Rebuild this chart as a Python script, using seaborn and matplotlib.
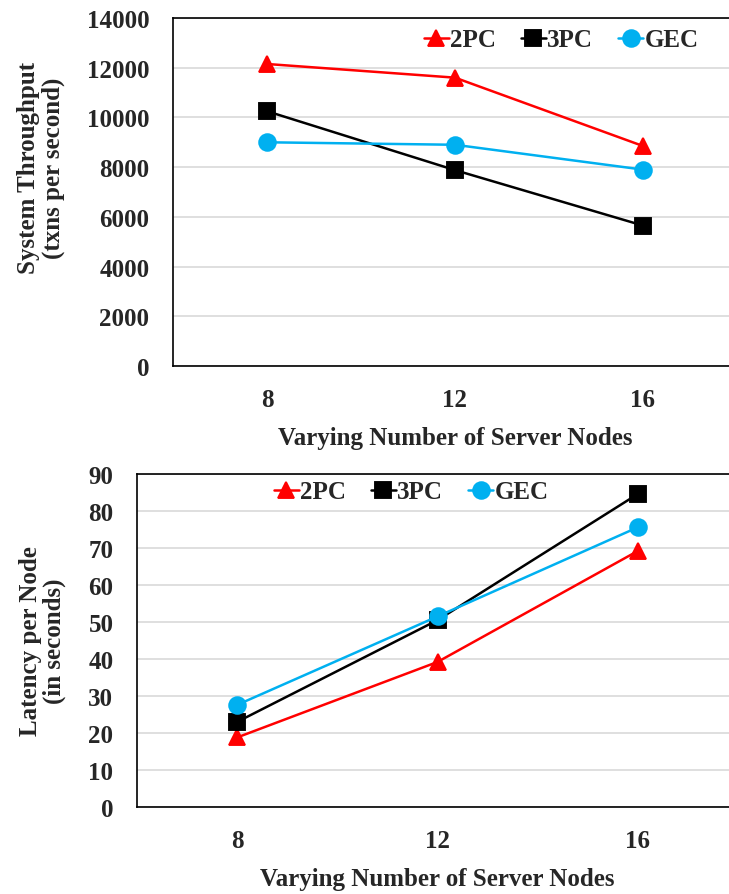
import matplotlib
matplotlib.use("Agg")
import matplotlib.pyplot as plt
import seaborn as sns
import pandas as pd

nodes = ["8", "12", "16"]
protocols = ["2PC", "3PC", "GEC"]
throughput_2pc = [12150, 11600, 8850]
throughput_3pc = [10250, 7880, 5650]
throughput_gec = [9000, 8900, 7900]
latency_2pc = [18.8, 39.2, 69.2]
latency_3pc = [23.0, 50.5, 84.6]
latency_gec = [27.6, 51.5, 75.6]
throughput_ticks = [0, 2000, 4000, 6000, 8000, 10000, 12000, 14000]
latency_ticks = [0, 10, 20, 30, 40, 50, 60, 70, 80, 90]

colors = {"2PC": "#FF0000", "3PC": "#000000", "GEC": "#00B0F0"}
markers = ["^", "s", "o"]

def long_df(series):
    rows = []
    for p, vals in zip(protocols, series):
        for n, v in zip(nodes, vals):
            rows.append({"nodes": n, "val": v, "proto": p})
    return pd.DataFrame(rows)

df_top = long_df([throughput_2pc, throughput_3pc, throughput_gec])
df_bot = long_df([latency_2pc, latency_3pc, latency_gec])

sns.set_style("white")
plt.rcParams["font.family"] = ["Liberation Serif", "DejaVu Serif"]
plt.rcParams["font.weight"] = "bold"

FS = 18
fig = plt.figure(figsize=(7.29, 8.95), dpi=100)
ax1 = fig.add_axes([173/729, (895-367)/895, (737-173)/729, 348/895])
ax2 = fig.add_axes([137/729, (895-808)/895, (738-137)/729, 333/895])

def draw(ax, df, ticks, ylabel, legpos, ylab_y):
    sns.pointplot(data=df, x="nodes", y="val", hue="proto", order=nodes,
                  hue_order=protocols, palette=colors, markers=markers,
                  linestyles="-", errorbar=None, ax=ax,
                  markersize=12, linewidth=1.8)
    ax.set_xlim(-0.5, 2.5)
    ax.set_ylim(ticks[0], ticks[-1])
    ax.set_yticks(ticks)
    ax.set_yticklabels([str(t) for t in ticks], fontsize=FS, fontweight="bold")
    ax.set_xticks(range(len(nodes)))
    ax.set_xticklabels(nodes, fontsize=FS, fontweight="bold")
    ax.tick_params(axis="y", length=0, pad=17)
    ax.tick_params(axis="x", length=0, pad=16)
    ax.yaxis.grid(True, color="#d9d9d9", linewidth=1.2)
    ax.set_axisbelow(True)
    for s in ["left", "bottom", "top"]:
        ax.spines[s].set_color("black")
        ax.spines[s].set_linewidth(1.2)
    ax.spines["right"].set_visible(False)
    ax.set_xlabel("Varying Number of Server Nodes", fontsize=FS,
                  fontweight="bold", labelpad=11)
    ax.set_ylabel(ylabel, fontsize=FS, fontweight="bold", labelpad=16,
                  linespacing=1.05)
    ax.yaxis.label.set_y(ylab_y)
    handles, labels = ax.get_legend_handles_labels()
    ax.legend(handles, labels, loc="center", bbox_to_anchor=legpos, ncol=3,
              frameon=False, prop={"size": FS, "weight": "bold"},
              handlelength=1.0, handletextpad=0.05, columnspacing=1.0,
              markerscale=1.0)

draw(ax1, df_top, throughput_ticks,
     "System Throughput\n(txns per second)", (0.688, 0.937), 0.572)
draw(ax2, df_bot, latency_ticks,
     "Latency per Node\n(in seconds)", (0.456, 0.946), 0.5)

fig.savefig("out.png", dpi=100)
